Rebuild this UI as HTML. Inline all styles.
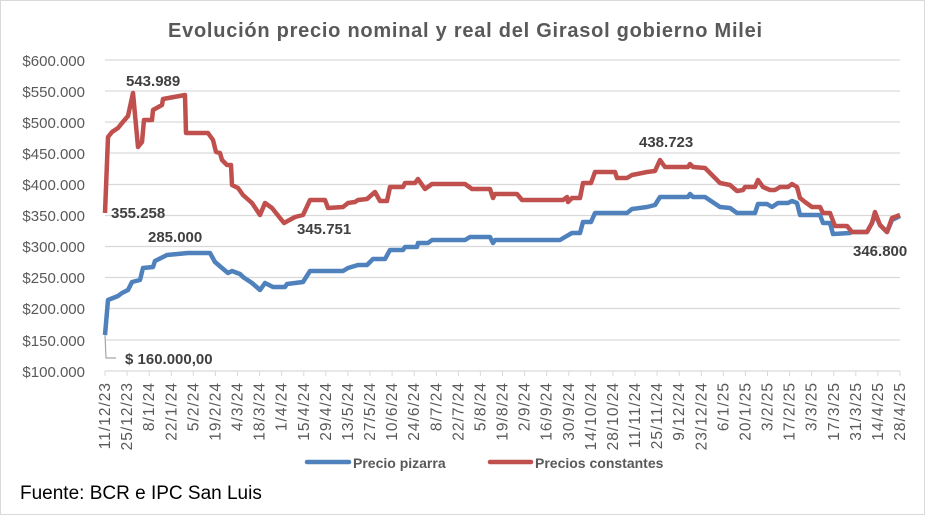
<!DOCTYPE html>
<html><head><meta charset="utf-8"><style>
body{margin:0;background:#fff}
svg{display:block}
text{font-family:"Liberation Sans",sans-serif}
</style></head><body>
<svg width="925" height="515" xmlns="http://www.w3.org/2000/svg">
<rect x="0.5" y="0.5" width="924" height="514" fill="#fff" stroke="#d9d9d9"/>
<text x="465" y="37" text-anchor="middle" font-size="20" font-weight="bold" fill="#595959" textLength="594" lengthAdjust="spacing">Evolución precio nominal y real del Girasol gobierno Milei</text>
<g stroke="#d9d9d9" stroke-width="1.3">
<line x1="105" x2="900" y1="60" y2="60"/><line x1="105" x2="900" y1="91" y2="91"/><line x1="105" x2="900" y1="122" y2="122"/><line x1="105" x2="900" y1="153" y2="153"/><line x1="105" x2="900" y1="184.5" y2="184.5"/><line x1="105" x2="900" y1="215.5" y2="215.5"/><line x1="105" x2="900" y1="246.5" y2="246.5"/><line x1="105" x2="900" y1="277.5" y2="277.5"/><line x1="105" x2="900" y1="308.5" y2="308.5"/><line x1="105" x2="900" y1="340" y2="340"/><line x1="105" x2="900" y1="371" y2="371"/>
</g>
<g font-size="15" fill="#595959" text-anchor="end">
<text x="85" y="66">$600.000</text><text x="85" y="97">$550.000</text><text x="85" y="128">$500.000</text><text x="85" y="159">$450.000</text><text x="85" y="190">$400.000</text><text x="85" y="221">$350.000</text><text x="85" y="252">$300.000</text><text x="85" y="283">$250.000</text><text x="85" y="314">$200.000</text><text x="85" y="346">$150.000</text><text x="85" y="377">$100.000</text>
</g>
<path stroke="#d9d9d9" stroke-width="1" d="M105,371v5M127.1,371v5M149.2,371v5M171.3,371v5M193.3,371v5M215.4,371v5M237.5,371v5M259.6,371v5M281.7,371v5M303.8,371v5M325.8,371v5M347.9,371v5M370,371v5M392.1,371v5M414.2,371v5M436.3,371v5M458.3,371v5M480.4,371v5M502.5,371v5M524.6,371v5M546.7,371v5M568.8,371v5M590.8,371v5M612.9,371v5M635,371v5M657.1,371v5M679.2,371v5M701.3,371v5M723.3,371v5M745.4,371v5M767.5,371v5M789.6,371v5M811.7,371v5M833.8,371v5M855.8,371v5M877.9,371v5M900,371v5"/>
<g font-size="15.5" fill="#595959" text-anchor="end" letter-spacing="1">
<text transform="translate(110,382) rotate(-90)">11/12/23</text>
<text transform="translate(132.1,382) rotate(-90)">25/12/23</text>
<text transform="translate(154.2,382) rotate(-90)">8/1/24</text>
<text transform="translate(176.3,382) rotate(-90)">22/1/24</text>
<text transform="translate(198.3,382) rotate(-90)">5/2/24</text>
<text transform="translate(220.4,382) rotate(-90)">19/2/24</text>
<text transform="translate(242.5,382) rotate(-90)">4/3/24</text>
<text transform="translate(264.6,382) rotate(-90)">18/3/24</text>
<text transform="translate(286.7,382) rotate(-90)">1/4/24</text>
<text transform="translate(308.8,382) rotate(-90)">15/4/24</text>
<text transform="translate(330.8,382) rotate(-90)">29/4/24</text>
<text transform="translate(352.9,382) rotate(-90)">13/5/24</text>
<text transform="translate(375,382) rotate(-90)">27/5/24</text>
<text transform="translate(397.1,382) rotate(-90)">10/6/24</text>
<text transform="translate(419.2,382) rotate(-90)">24/6/24</text>
<text transform="translate(441.3,382) rotate(-90)">8/7/24</text>
<text transform="translate(463.3,382) rotate(-90)">22/7/24</text>
<text transform="translate(485.4,382) rotate(-90)">5/8/24</text>
<text transform="translate(507.5,382) rotate(-90)">19/8/24</text>
<text transform="translate(529.6,382) rotate(-90)">2/9/24</text>
<text transform="translate(551.7,382) rotate(-90)">16/9/24</text>
<text transform="translate(573.8,382) rotate(-90)">30/9/24</text>
<text transform="translate(595.8,382) rotate(-90)">14/10/24</text>
<text transform="translate(617.9,382) rotate(-90)">28/10/24</text>
<text transform="translate(640,382) rotate(-90)">11/11/24</text>
<text transform="translate(662.1,382) rotate(-90)">25/11/24</text>
<text transform="translate(684.2,382) rotate(-90)">9/12/24</text>
<text transform="translate(706.3,382) rotate(-90)">23/12/24</text>
<text transform="translate(728.3,382) rotate(-90)">6/1/25</text>
<text transform="translate(750.4,382) rotate(-90)">20/1/25</text>
<text transform="translate(772.5,382) rotate(-90)">3/2/25</text>
<text transform="translate(794.6,382) rotate(-90)">17/2/25</text>
<text transform="translate(816.7,382) rotate(-90)">3/3/25</text>
<text transform="translate(838.8,382) rotate(-90)">17/3/25</text>
<text transform="translate(860.8,382) rotate(-90)">31/3/25</text>
<text transform="translate(882.9,382) rotate(-90)">14/4/25</text>
<text transform="translate(905,382) rotate(-90)">28/4/25</text>
</g>
<polyline fill="none" stroke="#4f81bd" stroke-width="4.5" stroke-linejoin="round" points="105,335 108,300 118,296 122,293 128,290 132,282 140,280 143,268 153,267 155,261 163,257 167,255 188,253 210,253 215,262 222,268 228,273 232,271 240,274 243,277 252,283 260,290 265,283 273,287 285,287 287,284 303,282 310,271 343,271 348,268 358,265 367,265 373,259 385,259 390,250 403,250 405,247 417,247 418,243 428,243 432,240 465,240 470,237 490,237 493,243 495,240 560,240 565,237 572,233 580,233 583,222 591,222 595,213 627,213 632,209 647,207 655,205 660,197 688,197 690,194 693,197 705,197 720,207 730,208 737,213 755,213 758,204 767,204 772,207 778,203 788,203 792,201 797,203 800,215 820,215 823,223 830,223 833,234 850,233 852,232 867,232 872,223 875,214 880,225 887,232 892,220 900,216"/>
<polyline fill="none" stroke="#c0504d" stroke-width="4.5" stroke-linejoin="round" points="105,213 108,137 112,132 118,128 122,123 128,116 133,93 138,147 142,142 144,120 152,120 153,110 162,105 163,99 185,95 186,133 208,133 213,140 216,152 220,153 222,160 227,165 231,165 232,185 238,188 243,195 252,203 260,215 265,203 272,208 284,223 295,217 303,215 310,200 325,200 328,208 343,207 348,203 355,202 358,200 367,199 375,192 380,201 387,201 390,187 403,187 405,183 415,183 418,179 425,189 432,184 465,184 472,189 490,189 493,198 495,194 517,194 522,200 563,200 567,197 568,202 572,198 580,198 583,183 591,183 595,172 615,172 617,178 627,178 632,175 647,172 655,171 660,160 665,167 688,167 690,164 693,167 705,168 720,183 730,185 737,191 743,190 745,187 755,187 758,180 763,187 770,190 775,190 780,187 788,187 792,184 797,187 800,198 805,202 812,207 820,207 823,213 830,213 835,226 847,226 852,232 867,232 872,223 875,212 880,225 887,232 892,218 900,215"/>
<polyline fill="none" stroke="#a6a6a6" stroke-width="1.2" points="105,335 106,358 116,358"/>
<g font-size="15" font-weight="bold" fill="#404040">
<text x="126" y="86">543.989</text>
<text x="111" y="218">355.258</text>
<text x="148" y="242">285.000</text>
<text x="297" y="234">345.751</text>
<text x="639" y="147">438.723</text>
<text x="853" y="256">346.800</text>
<text x="125" y="364">$ 160.000,00</text>
</g>
<line x1="307" y1="462" x2="349" y2="462" stroke="#4f81bd" stroke-width="4.5" stroke-linecap="round"/>
<text x="353" y="468" font-size="14" font-weight="bold" fill="#595959">Precio pizarra</text>
<line x1="490" y1="462" x2="531" y2="462" stroke="#c0504d" stroke-width="4.5" stroke-linecap="round"/>
<text x="535" y="468" font-size="14" font-weight="bold" fill="#595959">Precios constantes</text>
<text x="20" y="499" font-size="19" fill="#000">Fuente: BCR e IPC San Luis</text>
</svg>
</body></html>
